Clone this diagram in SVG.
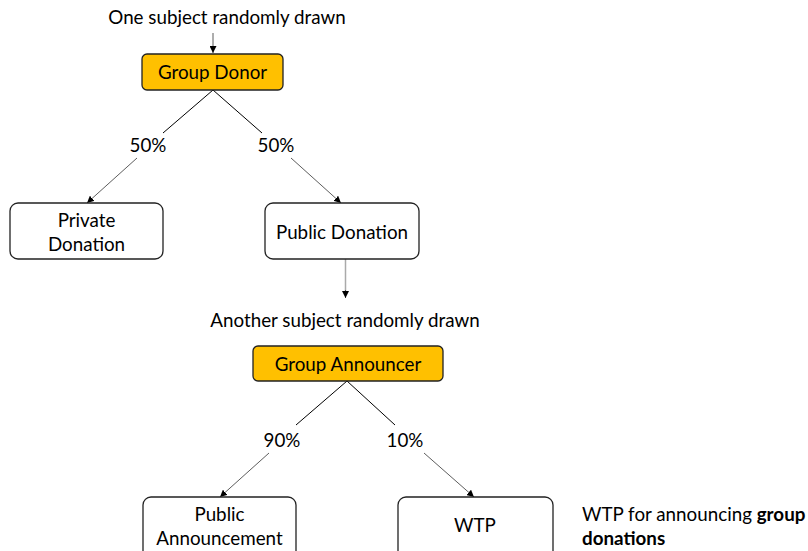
<svg xmlns="http://www.w3.org/2000/svg" width="808" height="551" viewBox="0 0 808 551">
<defs>
<marker id="ah" viewBox="0 0 10 10" refX="10" refY="5" markerWidth="7" markerHeight="7" markerUnits="userSpaceOnUse" orient="auto">
<path d="M0,0 L10,5 L0,10 z" fill="#000"/>
</marker>
<style>
text{font-family:Lato,"Liberation Sans",sans-serif;font-size:18.8px;fill:#000;text-anchor:middle}
.gold{fill:#FFC000;stroke:#222;stroke-width:1.3}
.white{fill:#fff;stroke:#222;stroke-width:1.3}
.ln{stroke:#000;stroke-width:1;fill:none}
.arr{stroke:#333;stroke-width:0.8;fill:none;marker-end:url(#ah)}
.grey{stroke:#aaa;stroke-width:1.5;fill:none}
</style>
</defs>
<rect width="808" height="551" fill="#fff"/>
<g id="connectors">
<line class="arr" x1="213" y1="33" x2="213" y2="53"/>
<line class="ln" x1="213" y1="90" x2="163" y2="133"/>
<line class="ln" x1="213" y1="90" x2="262" y2="133"/>
<line class="arr" x1="137" y1="158" x2="87" y2="203"/>
<line class="arr" x1="291" y1="158" x2="341" y2="203"/>
<line class="grey" x1="345.5" y1="259" x2="345.5" y2="291"/>
<line class="arr" x1="345.5" y1="290" x2="345.5" y2="298"/>
<line class="ln" x1="347" y1="381" x2="296" y2="425"/>
<line class="ln" x1="347" y1="381" x2="395" y2="425"/>
<line class="arr" x1="269" y1="453" x2="220" y2="497"/>
<line class="arr" x1="424" y1="453" x2="474" y2="497"/>
</g>
<g id="label-top"><text x="227" y="24">One subject randomly drawn</text></g>
<g id="group-donor">
<rect class="gold" x="142" y="54" width="141" height="36" rx="5"/>
<text x="212.5" y="79">Group Donor</text>
</g>
<g id="p50a"><text x="148" y="152">50%</text></g>
<g id="p50b"><text x="276" y="152">50%</text></g>
<g id="private-donation">
<rect class="white" x="10" y="203" width="153" height="56" rx="8"/>
<text x="86.5" y="227">Private</text>
<text x="86.5" y="251">Donation</text>
</g>
<g id="public-donation">
<rect class="white" x="265" y="203" width="154" height="56" rx="8"/>
<text x="342" y="239">Public Donation</text>
</g>
<g id="label-another"><text x="345" y="327">Another subject randomly drawn</text></g>
<g id="group-announcer">
<rect class="gold" x="253" y="346" width="190" height="35" rx="5"/>
<text x="348" y="371">Group Announcer</text>
</g>
<g id="p90"><text x="282" y="447">90%</text></g>
<g id="p10"><text x="405" y="447">10%</text></g>
<g id="public-announcement">
<rect class="white" x="143" y="497" width="153" height="62" rx="8"/>
<text x="219.5" y="521">Public</text>
<text x="219.5" y="545">Announcement</text>
</g>
<g id="wtp">
<rect class="white" x="398" y="497" width="155" height="62" rx="8"/>
<text x="475" y="532">WTP</text>
</g>
<g id="wtp-note">
<text x="582" y="521" style="text-anchor:start">WTP for announcing <tspan font-weight="bold">group</tspan></text>
<text x="582" y="545" style="text-anchor:start;font-weight:bold">donations</text>
</g>
</svg>
